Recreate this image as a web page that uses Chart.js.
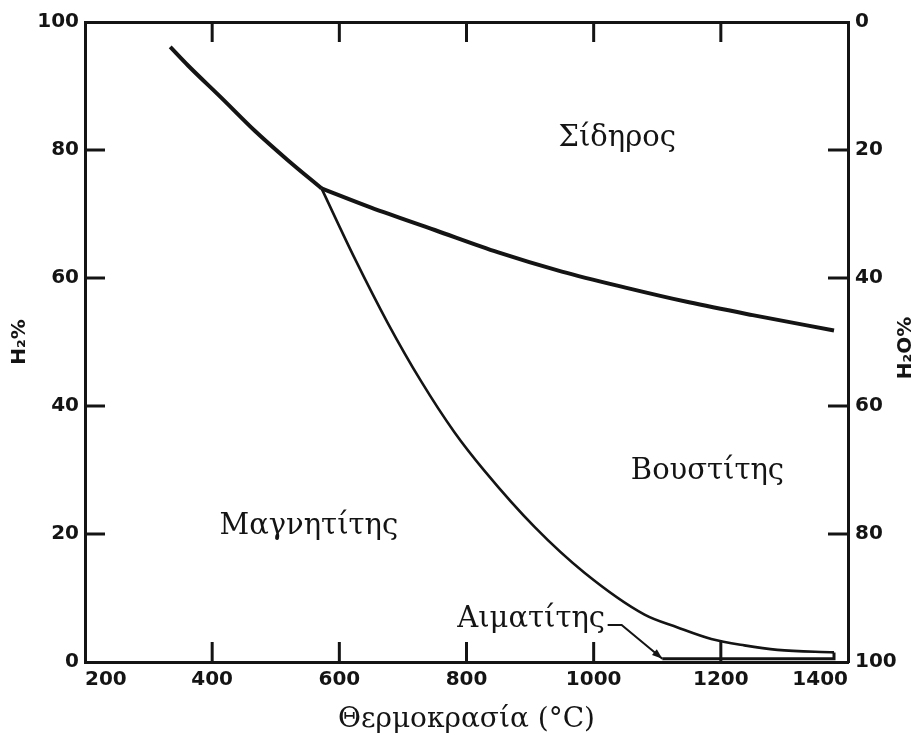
<!DOCTYPE html>
<html>
<head>
<meta charset="utf-8">
<script src="https://cdn.jsdelivr.net/npm/chart.js@4.4.0/dist/chart.umd.min.js"></script>
<style>
  html, body { margin: 0; padding: 0; background: #fff; }
  #wrap { width: 917px; height: 743px; }
</style>
</head>
<body>
<div id="wrap"><canvas id="chart" width="917" height="743"></canvas></div>
<script>
// Fe-O-H equilibrium diagram: H2 % vs temperature
const ironMagT = [334, 362, 415, 467, 519, 572];
const ironMagH2 = [96.1, 93.2, 88.1, 83.0, 78.4, 74.0];

const ironWusT = [572, 650, 750, 850, 950, 1050, 1150, 1250, 1378];
const ironWusH2 = [74.0, 71.0, 67.5, 64.0, 61.0, 58.5, 56.2, 54.2, 51.8];

const magWusT = [572, 624, 676, 729, 781, 828, 907, 986, 1080, 1132, 1185, 1237, 1289, 1378];
const magWusH2 = [74.0, 63.1, 53.0, 43.8, 35.9, 29.9, 21.1, 13.9, 7.4, 5.4, 3.6, 2.6, 1.9, 1.5];

const hemT = [1108, 1378, 1378];
const hemH2 = [0.5, 0.5, 1.5];

const leaderT = [1022, 1044, 1108];
const leaderH2 = [5.8, 5.8, 0.5];

const regionNames = ['Σίδηρος', 'Βουστίτης', 'Μαγνητίτης', 'Αιματίτης'];
const regionT = [1037, 1179, 552, 1018];
const regionH2 = [81.8, 29.7, 21.2, 6.6];
const regionAlign = ['center', 'center', 'center', 'right'];

const xTitle = 'Θερμοκρασία (°C)';
const yTitle = 'H₂%';
const y2Title = 'H₂O%';

const INK = '#141414';
const TICK = 20;

function pts(xs, ys) {
  return xs.map((x, i) => ({ x: x, y: ys[i] }));
}

function line(data, width, smooth) {
  return {
    data: data,
    showLine: true,
    borderColor: INK,
    borderWidth: width,
    pointRadius: 0,
    fill: false,
    cubicInterpolationMode: smooth ? 'monotone' : 'default',
    tension: 0
  };
}

const extras = {
  id: 'extras',
  afterDraw(chart) {
    const ctx = chart.ctx;
    const a = chart.chartArea;
    const sx = chart.scales.x, sy = chart.scales.y;
    ctx.save();
    ctx.strokeStyle = INK;
    ctx.fillStyle = INK;
    ctx.lineWidth = 3;
    // inward tick marks
    [['x', 'bottom'], ['x2', 'top'], ['y', 'left'], ['y2', 'right']].forEach(([id, side]) => {
      const s = chart.scales[id];
      s.ticks.forEach(t => {
        if (t.value <= s.min || t.value >= s.max) return;
        const p = s.getPixelForValue(t.value);
        ctx.beginPath();
        if (side === 'bottom') { ctx.moveTo(p, a.bottom); ctx.lineTo(p, a.bottom - TICK); }
        if (side === 'top') { ctx.moveTo(p, a.top); ctx.lineTo(p, a.top + TICK); }
        if (side === 'left') { ctx.moveTo(a.left, p); ctx.lineTo(a.left + TICK, p); }
        if (side === 'right') { ctx.moveTo(a.right, p); ctx.lineTo(a.right - TICK, p); }
        ctx.stroke();
      });
    });

    // arrow head at the end of the hematite leader
    const n = leaderT.length;
    const tx = sx.getPixelForValue(leaderT[n - 1]), ty = sy.getPixelForValue(leaderH2[n - 1]);
    const fx = sx.getPixelForValue(leaderT[n - 2]), fy = sy.getPixelForValue(leaderH2[n - 2]);
    const ang = Math.atan2(ty - fy, tx - fx);
    ctx.beginPath();
    ctx.moveTo(tx, ty);
    ctx.lineTo(tx - 11 * Math.cos(ang - 0.35), ty - 11 * Math.sin(ang - 0.35));
    ctx.lineTo(tx - 11 * Math.cos(ang + 0.35), ty - 11 * Math.sin(ang + 0.35));
    ctx.closePath();
    ctx.fill();

    // phase names
    ctx.font = '29px "DejaVu Serif"';
    ctx.textBaseline = 'middle';
    regionNames.forEach((name, i) => {
      ctx.textAlign = regionAlign[i];
      ctx.fillText(name, sx.getPixelForValue(regionT[i]), sy.getPixelForValue(regionH2[i]));
    });

    // right axis title, read bottom to top
    ctx.font = 'bold 20px "DejaVu Sans"';
    ctx.textAlign = 'center';
    ctx.translate(906, 348);
    ctx.rotate(-Math.PI / 2);
    ctx.fillText(y2Title, 0, 0);
    ctx.restore();
  }
};

const tickFont = { family: 'DejaVu Sans', size: 20, weight: 'bold' };
const plain = v => String(v);

new Chart(document.getElementById('chart').getContext('2d'), {
  type: 'scatter',
  data: {
    datasets: [
      line(pts(ironMagT, ironMagH2), 4, true),
      line(pts(ironWusT, ironWusH2), 4, true),
      line(pts(magWusT, magWusH2), 2.6, true),
      line(pts(hemT, hemH2), 3, false),
      line(pts(leaderT, leaderH2), 2, false)
    ]
  },
  options: {
    responsive: false,
    animation: false,
    layout: { padding: 0 },
    plugins: { legend: { display: false }, tooltip: { enabled: false } },
    scales: {
      x: {
        type: 'linear', position: 'bottom', min: 200, max: 1400,
        ticks: { stepSize: 200, color: INK, font: tickFont, padding: 6, maxRotation: 0,
                 align: 'inner', callback: plain },
        grid: { drawOnChartArea: false, drawTicks: false },
        border: { display: true, color: INK, width: 3 },
        title: { display: true, text: xTitle, color: INK,
                 font: { family: 'DejaVu Serif', size: 28 }, padding: { top: 0, bottom: 6 } },
        afterFit: s => { s.height = 81; }
      },
      x2: {
        type: 'linear', position: 'top', min: 200, max: 1400,
        ticks: { stepSize: 200, display: false },
        grid: { drawOnChartArea: false, drawTicks: false },
        border: { display: true, color: INK, width: 3 },
        afterFit: s => { s.height = 22; }
      },
      y: {
        type: 'linear', position: 'left', min: 0, max: 100,
        ticks: { stepSize: 20, color: INK, font: tickFont, padding: 6, callback: plain },
        grid: { drawOnChartArea: false, drawTicks: false },
        border: { display: true, color: INK, width: 3 },
        title: { display: true, text: yTitle, color: INK,
                 font: { family: 'DejaVu Sans', size: 20, weight: 'bold' }, padding: { top: 8, bottom: 0 } },
        afterFit: s => { s.width = 85; }
      },
      y2: {
        type: 'linear', position: 'right', min: 0, max: 100, reverse: true,
        ticks: { stepSize: 20, color: INK, font: tickFont, padding: 7, callback: plain },
        grid: { drawOnChartArea: false, drawTicks: false },
        border: { display: true, color: INK, width: 3 },
        afterFit: s => { s.width = 69; }
      }
    }
  },
  plugins: [extras]
});
</script>
</body>
</html>
